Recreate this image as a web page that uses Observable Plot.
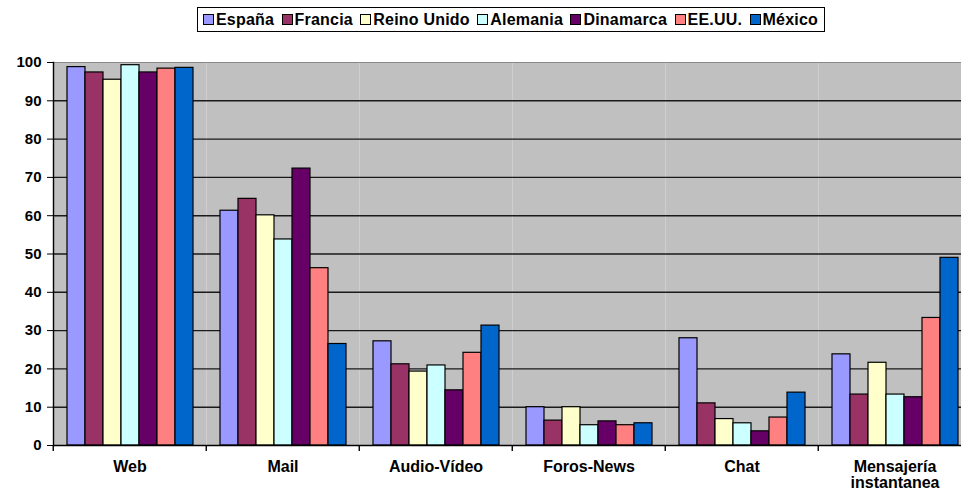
<!DOCTYPE html>
<html>
<head>
<meta charset="utf-8">
<script src="https://cdn.jsdelivr.net/npm/d3@7"></script>
<script src="https://cdn.jsdelivr.net/npm/@observablehq/plot@0.6"></script>
<style>
  html, body { margin: 0; padding: 0; background: #fff; overflow: hidden; }
  body { font-family: "Liberation Sans", Arial, sans-serif; width: 961px; height: 492px; }
  #legend { position: relative; height: 40px; }
  #legend .box {
    position: absolute; left: 197px; top: 7px; width: 628px; height: 25px;
    box-sizing: border-box; border: 1.5px solid #000; background: #fff;
    display: flex; align-items: center; justify-content: space-between;
    padding: 0 6px 0 5px;
  }
  #legend .item { display: flex; align-items: center; font-weight: bold; font-size: 16px; color: #000; white-space: nowrap; letter-spacing: 0.2px; }
  #legend .sw { width: 9px; height: 9px; border: 1px solid #000; margin-right: 2px; }
  #chart svg { display: block; }
</style>
</head>
<body>
<div id="legend"><div class="box"></div></div>
<div id="chart"></div>
<script>
const categories = ["Web", "Mail", "Audio-Vídeo", "Foros-News", "Chat", "Mensajería\ninstantanea"];
const countries = ["España", "Francia", "Reino Unido", "Alemania", "Dinamarca", "EE.UU.", "México"];
const countryColors = ["#9999FF", "#993366", "#FFFFCC", "#CCFFFF", "#660066", "#FF8080", "#0066CC"];

const espana     = [98.8, 61.3, 27.2, 10.0, 28.0, 23.8];
const francia    = [97.4, 64.4, 21.2,  6.5, 11.0, 13.3];
const reinoUnido = [95.5, 60.1, 19.3, 10.0,  6.9, 21.6];
const alemania   = [99.3, 53.8, 20.9,  5.3,  5.8, 13.3];
const dinamarca  = [97.4, 72.3, 14.4,  6.3,  3.7, 12.6];
const eeuu       = [98.4, 46.3, 24.2,  5.3,  7.3, 33.3];
const mexico     = [98.6, 26.5, 31.3,  5.8, 13.8, 49.0];

const yTicks = [0, 10, 20, 30, 40, 50, 60, 70, 80, 90, 100];
const gridTicks = [10, 20, 30, 40, 50, 60, 70, 80, 90];

const seriesValues = [espana, francia, reinoUnido, alemania, dinamarca, eeuu, mexico];
const data = categories.flatMap((c, i) =>
  countries.map((s, j) => ({category: c, country: s, value: seriesValues[j][i]}))
);

// legend
const box = document.querySelector("#legend .box");
countries.forEach((s, j) => {
  const it = document.createElement("div");
  it.className = "item";
  const sw = document.createElement("span");
  sw.className = "sw";
  sw.style.background = countryColors[j];
  const tx = document.createElement("span");
  tx.textContent = s;
  it.appendChild(sw); it.appendChild(tx);
  box.appendChild(it);
});

const chart = Plot.plot({
  width: 975,
  height: 452,
  marginTop: 22,
  marginBottom: 47,
  marginLeft: 51,
  marginRight: 3,
  style: {fontFamily: "'Liberation Sans', Arial, sans-serif", color: "#000", background: "#fff", maxWidth: "none", overflow: "hidden"},
  fx: {domain: categories, padding: 0, label: null, axis: null},
  x: {domain: countries, paddingInner: 0, paddingOuter: 0.75, axis: null},
  y: {domain: [0, 100], axis: null},
  color: {domain: countries, range: countryColors},
  marks: [
    Plot.frame({fill: "#C0C0C0", stroke: "none"}),
    Plot.ruleY(gridTicks, {stroke: "#1a1a1a", strokeWidth: 1.4}),
    Plot.ruleY([100], {stroke: "#8a8a8a", strokeWidth: 1}),
    Plot.barY(data, {fx: "category", x: "country", y: "value", fill: "country", stroke: "#000", strokeWidth: 1.2}),
    Plot.ruleY([0], {stroke: "#000", strokeWidth: 1.4}),
    Plot.frame({anchor: "left", facetAnchor: "left", stroke: "#000", strokeWidth: 1.4}),
    Plot.axisY(yTicks, {
      anchor: "left", tickSize: 6, tickPadding: 6, stroke: "#000",
      fontSize: 15, fontWeight: "bold", label: null, tickFormat: d => String(d)
    }),
    Plot.axisFx({
      anchor: "bottom", tickSize: 0, tickPadding: 15, lineHeight: 1.0,
      fontSize: 16, fontWeight: "bold", label: null
    }),
    Plot.axisFx({
      anchor: "bottom", tickSize: 6, tickFormat: () => "", dx: -76.75,
      stroke: "#000", strokeWidth: 1.4, label: null
    })
  ]
});
document.getElementById("chart").appendChild(chart);
</script>
</body>
</html>
